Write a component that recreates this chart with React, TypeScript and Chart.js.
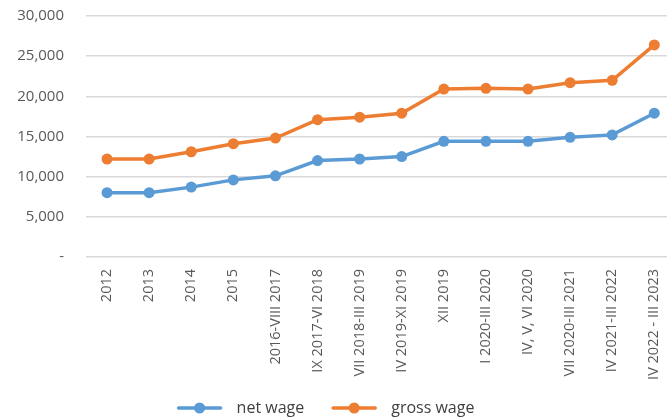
import React, { useEffect, useRef } from "react";
import { Chart, registerables } from "chart.js";

Chart.register(...registerables);

const categories = [
  "2012",
  "2013",
  "2014",
  "2015",
  "2016-VIII 2017",
  "IX 2017-VI 2018",
  "VII 2018-III 2019",
  "IV 2019-XI 2019",
  "XII 2019",
  "I 2020-III 2020",
  "IV, V, VI 2020",
  "VII 2020-III 2021",
  "IV 2021-III 2022",
  "IV 2022 - III 2023",
];

const netWage = [8000, 8000, 8700, 9600, 10100, 12000, 12200, 12500, 14400, 14400, 14400, 14900, 15200, 17900];
const grossWage = [12200, 12200, 13100, 14100, 14800, 17100, 17400, 17900, 20900, 21000, 20900, 21700, 22000, 26400];

const yTicks = [0, 5000, 10000, 15000, 20000, 25000, 30000];

const BLUE = "#5B9BD5";
const ORANGE = "#ED7D31";
const FONT = "'Open Sans', sans-serif";

const lineLegend = {
  id: "lineLegend",
  afterDraw(chart: any) {
    const ctx = chart.ctx;
    const sets = chart.data.datasets;
    ctx.save();
    ctx.font = `16px ${FONT}`;
    const markerW = 44;
    const gapText = 15;
    const gapItem = 28;
    const widths = sets.map((d: any) => ctx.measureText(d.label).width);
    const total = sets.reduce((acc: number, _d: any, i: number) => acc + markerW + gapText + widths[i], 0) + gapItem * (sets.length - 1);
    let x = chart.width / 2 - 16 - total / 2;
    const y = chart.height - 11;
    sets.forEach((d: any, i: number) => {
      const c = d.borderColor;
      ctx.strokeStyle = c;
      ctx.fillStyle = c;
      ctx.lineWidth = 3.5;
      ctx.lineCap = "round";
      ctx.beginPath();
      ctx.moveTo(x + 1, y);
      ctx.lineTo(x + markerW - 1, y);
      ctx.stroke();
      ctx.beginPath();
      ctx.arc(x + markerW / 2, y, 5.5, 0, Math.PI * 2);
      ctx.fill();
      x += markerW + gapText;
      ctx.fillStyle = "#404040";
      ctx.textBaseline = "middle";
      ctx.textAlign = "left";
      ctx.fillText(d.label, x, y);
      x += widths[i] + gapItem;
    });
    ctx.restore();
  },
};

export default function App() {
  const ref = useRef<HTMLCanvasElement>(null);

  useEffect(() => {
    if (!ref.current) return;
    const chart = new Chart(ref.current, {
      type: "line",
      data: {
        labels: categories,
        datasets: [
          {
            label: "net wage",
            data: netWage,
            borderColor: BLUE,
            backgroundColor: BLUE,
            borderWidth: 3.5,
            pointRadius: 5.5,
            pointBackgroundColor: BLUE,
            pointBorderWidth: 0,
            tension: 0,
          },
          {
            label: "gross wage",
            data: grossWage,
            borderColor: ORANGE,
            backgroundColor: ORANGE,
            borderWidth: 3.5,
            pointRadius: 5.5,
            pointBackgroundColor: ORANGE,
            pointBorderWidth: 0,
            tension: 0,
          },
        ],
      },
      options: {
        responsive: false,
        animation: false,
        layout: { padding: { left: 0, right: 8, top: 16, bottom: 27 } },
        plugins: {
          tooltip: { enabled: false },
          legend: { display: false },
        },
        scales: {
          x: {
            offset: true,
            grid: { display: false, drawTicks: false },
            border: { display: false },
            ticks: {
              autoSkip: false,
              maxRotation: 90,
              minRotation: 90,
              padding: 12,
              color: "#595959",
              font: { family: FONT, size: 14.5 },
            },
            afterFit: (s: any) => {
              s.height = 135;
            },
          },
          y: {
            min: 0,
            max: 30000,
            afterBuildTicks: (s: any) => {
              s.ticks = yTicks.map((v) => ({ value: v }));
            },
            grid: { color: "#D9D9D9", lineWidth: 1.5, drawTicks: true, tickLength: 22, tickColor: "rgba(0,0,0,0)" },
            border: { display: false },
            ticks: {
              padding: 0,
              color: "#595959",
              font: { family: FONT, size: 15 },
              callback: (v: any) => (Number(v) === 0 ? "-" : Number(v).toLocaleString("en-US")),
            },
            afterFit: (s: any) => {
              s.width = 86;
            },
          },
        },
      },
      plugins: [lineLegend],
    });
    return () => chart.destroy();
  }, []);

  return (
    <div style={{ position: "fixed", left: 0, top: 0, width: 667, height: 419, overflow: "hidden", background: "#fff" }}>
      <canvas ref={ref} width={684} height={419} style={{ width: 684, height: 419, display: "block" }} />
    </div>
  );
}
